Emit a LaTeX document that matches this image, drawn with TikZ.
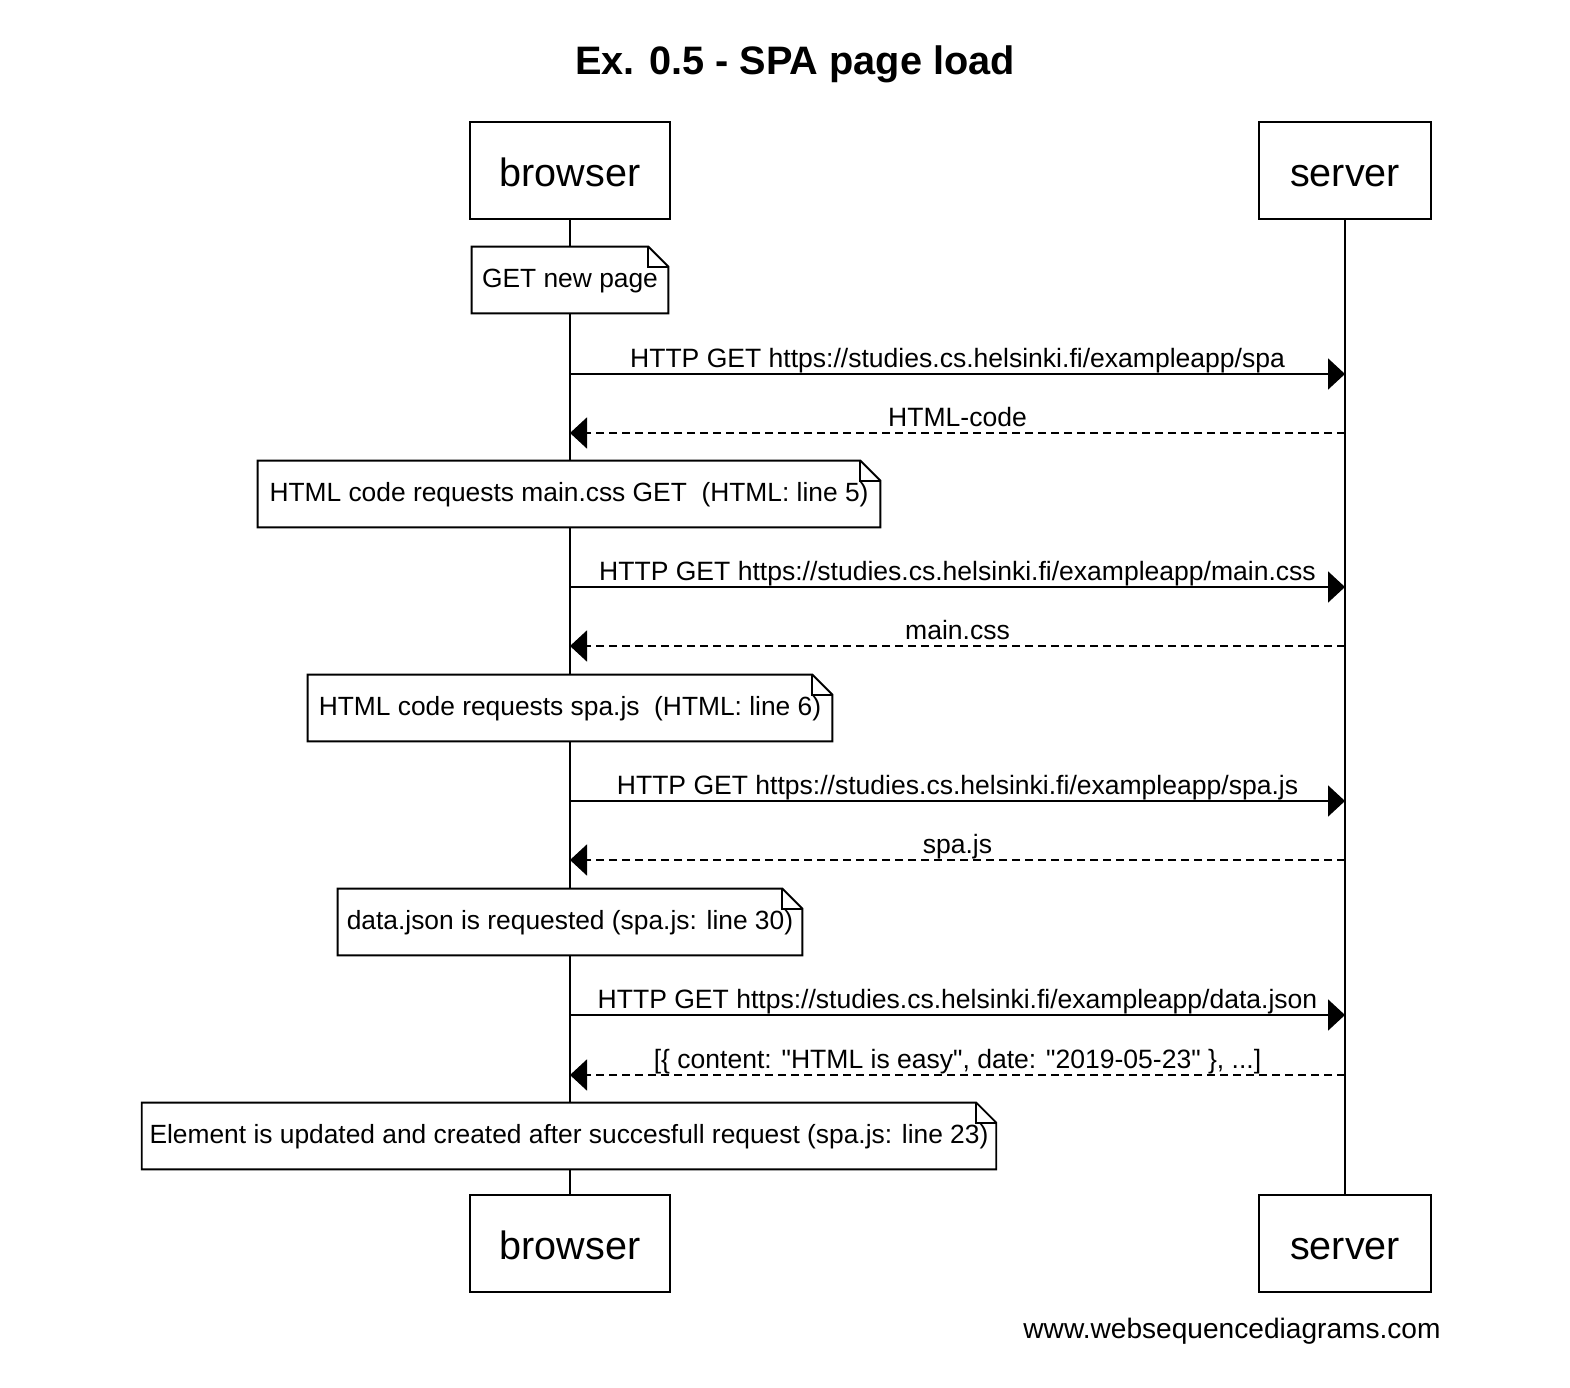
\documentclass[tikz,border=0pt]{standalone}
\usepackage{fontspec}
\setmainfont{Liberation Sans}
\usetikzlibrary{arrows.meta}

\begin{document}
\begin{tikzpicture}[x=0.02cm, y=-0.02cm,
  actor/.style={draw, line width=1.1pt, minimum height=1.94cm, text height=18.7pt, text depth=0pt, font=\fontsize{22.5}{27}\selectfont},
  note/.style={fill=white, minimum height=1.32cm, inner sep=0pt, text height=11pt, text depth=2pt, font=\fontsize{15}{18}\selectfont},
  box/.style={line width=1.1pt, line join=miter},
  req/.style={line width=1.1pt, -{Triangle[length=0.34cm,width=0.62cm]}},
  resp/.style={req, dash pattern=on 0.16cm off 0.1cm},
  lbl/.style={anchor=base, yshift=0.13cm, inner sep=0pt, font=\fontsize{15.1}{18}\selectfont}]
  \useasboundingbox (0,0) rectangle (1570,1388);

  \node [anchor=base, font=\bfseries\fontsize{22.6}{27}\selectfont] (title) at (795,75) {Ex. 0.5 - SPA page load};

  % participants and lifelines
  \node [actor, minimum width=4cm] (bt) at (570,170.5) {browser};
  \node [actor, minimum width=3.44cm] (st) at (1345,170.5) {server};
  \node [actor, minimum width=4cm] (bb) at (570,1243.5) {browser};
  \node [actor, minimum width=3.44cm] (sb) at (1345,1243.5) {server};
  \draw [line width=1.1pt] (bt) -- (bb);
  \draw [line width=1.1pt] (st) -- (sb);

  % notes
  \node [note, minimum width=3.92cm] (n1) at (570,280) {GET new page};
  \node [note, minimum width=12.44cm] (n2) at (569,494) {HTML code requests main.css GET\ \ (HTML: line 5)};
  \node [note, minimum width=10.48cm] (n3) at (570,708) {HTML code requests spa.js\ \ (HTML: line 6)};
  \node [note, minimum width=9.28cm] (n4) at (570,922) {data.json is requested (spa.js: line 30)};
  \node [note, minimum width=17.08cm] (n5) at (569,1136) {Element is updated and created after succesfull request (spa.js: line 23)};
  \foreach \n in {n1,n2,n3,n4,n5}{
    \draw [box] (\n.south west) -- (\n.north west) -- ([xshift=-0.4cm]\n.north east)
      -- ([yshift=-0.4cm]\n.north east) -- (\n.south east) -- cycle;
    \draw [box] ([xshift=-0.4cm]\n.north east) |- ([yshift=-0.4cm]\n.north east);
  }

  % messages
  \coordinate (b1) at (570,374);  \coordinate (s1) at (1345,374);
  \coordinate (b2) at (570,433);  \coordinate (s2) at (1345,433);
  \coordinate (b3) at (570,587);  \coordinate (s3) at (1345,587);
  \coordinate (b4) at (570,646);  \coordinate (s4) at (1345,646);
  \coordinate (b5) at (570,801);  \coordinate (s5) at (1345,801);
  \coordinate (b6) at (570,860);  \coordinate (s6) at (1345,860);
  \coordinate (b7) at (570,1015); \coordinate (s7) at (1345,1015);
  \coordinate (b8) at (570,1075); \coordinate (s8) at (1345,1075);

  \draw [req] (b1) -- node [lbl] {HTTP GET https://studies.cs.helsinki.fi/exampleapp/spa} (s1);
  \draw [resp] (s2) -- node [lbl] {HTML-code} (b2);
  \draw [req] (b3) -- node [lbl] {HTTP GET https://studies.cs.helsinki.fi/exampleapp/main.css} (s3);
  \draw [resp] (s4) -- node [lbl] {main.css} (b4);
  \draw [req] (b5) -- node [lbl] {HTTP GET https://studies.cs.helsinki.fi/exampleapp/spa.js} (s5);
  \draw [resp] (s6) -- node [lbl] {spa.js} (b6);
  \draw [req] (b7) -- node [lbl] {HTTP GET https://studies.cs.helsinki.fi/exampleapp/data.json} (s7);
  \draw [resp] (s8) -- node [lbl] {[\{ content: \textquotedbl HTML is easy\textquotedbl, date: \textquotedbl 2019-05-23\textquotedbl\ \}, ...]} (b8);

  \node [anchor=base, font=\fontsize{16}{19}\selectfont] (site) at (1232,1338) {www.websequencediagrams.com};
\end{tikzpicture}
\end{document}
